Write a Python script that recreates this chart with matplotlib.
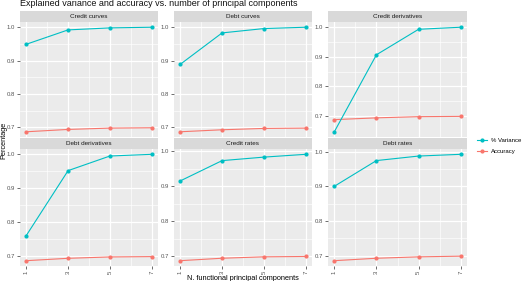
import matplotlib.pyplot as plt
import matplotlib
import numpy as np
from matplotlib.patches import Rectangle
from matplotlib.lines import Line2D

matplotlib.rcParams['font.family'] = ['Liberation Sans', 'DejaVu Sans']

# data
n_comp = [1, 3, 5, 7]
panels = ['Credit curves', 'Debt curves', 'Credit derivatives',
          'Debt derivatives', 'Credit rates', 'Debt rates']
variance = [
    [0.949, 0.992, 0.998, 1.000],
    [0.889, 0.983, 0.996, 1.000],
    [0.647, 0.907, 0.993, 1.000],
    [0.761, 0.952, 0.995, 1.000],
    [0.915, 0.973, 0.983, 0.991],
    [0.900, 0.974, 0.987, 0.992],
]
accuracy = [
    [0.687, 0.694, 0.698, 0.699],
    [0.687, 0.693, 0.697, 0.698],
    [0.688, 0.694, 0.698, 0.699],
    [0.687, 0.694, 0.698, 0.699],
    [0.687, 0.694, 0.698, 0.699],
    [0.686, 0.693, 0.697, 0.699],
]
y_ticks = [0.7, 0.8, 0.9, 1.0]
y_minor = [0.75, 0.85, 0.95]

c_var = '#00BFC4'
c_acc = '#F8766D'

fig = plt.figure(figsize=(5.25, 2.81), dpi=100)
W, H = 525, 281

# panel boxes in pixels
cols = [(20, 158), (174, 312), (328, 467)]
rows = [(22, 137), (149, 266)]
strip_h = 11

for i, name in enumerate(panels):
    r, c = divmod(i, 3)
    x0, x1 = cols[c]
    y0, y1 = rows[r]
    ax = fig.add_axes([x0 / W, 1 - y1 / H, (x1 - x0) / W, (y1 - y0) / H])
    ax.set_facecolor('#EBEBEB')
    for s in ax.spines.values():
        s.set_visible(False)

    v = np.array(variance[i])
    a = np.array(accuracy[i])
    lo = min(v.min(), a.min())
    hi = max(v.max(), a.max())
    pad = (hi - lo) * 0.05
    ax.set_ylim(lo - pad, hi + pad)
    ax.set_xlim(0.7, 7.3)

    ax.set_xticks(n_comp)
    ax.set_xticks([2, 4, 6], minor=True)
    ax.set_yticks(y_ticks)
    ax.set_yticks(y_minor, minor=True)
    ax.grid(which='major', color='white', linewidth=0.9)
    ax.grid(which='minor', color='white', linewidth=0.45)
    ax.set_axisbelow(True)
    ax.tick_params(which='minor', length=0)
    ax.tick_params(which='major', length=2, width=0.5, color='#333333',
                   labelsize=4.3, labelcolor='#555555', pad=1.5)
    ax.set_yticklabels(['0.7', '0.8', '0.9', '1.0'])
    if r == 0:
        ax.tick_params(axis='x', labelbottom=False, length=0)
    else:
        ax.set_xticklabels([str(n) for n in n_comp], rotation=90)

    ax.plot(n_comp, a, color=c_acc, lw=0.8, marker='o', ms=2.0, zorder=3)
    ax.plot(n_comp, v, color=c_var, lw=0.8, marker='o', ms=2.0, zorder=3)

    # facet strip
    sh = strip_h / (y1 - y0)
    ax.add_patch(Rectangle((0, 1), 1, sh, transform=ax.transAxes,
                           facecolor='#D9D9D9', edgecolor='none', clip_on=False))
    ax.text(0.5, 1 + sh / 2, name, transform=ax.transAxes, ha='center',
            va='center', fontsize=4.6, color='#1A1A1A')

fig.text(20 / W, 1 - 4 / H, 'Explained variance and accuracy vs. number of principal components',
         fontsize=6.5, color='#111111', ha='left', va='center')
fig.text(243 / W, 1 - 279 / H, 'N. functional principal components',
         fontsize=5.3, ha='center', va='center')
fig.text(4 / W, 1 - 140 / H, 'Percentage', fontsize=5.3, rotation=90,
         ha='center', va='center')

handles = [Line2D([], [], color=c_var, lw=0.8, marker='o', ms=2.0),
           Line2D([], [], color=c_acc, lw=0.8, marker='o', ms=2.0)]
fig.legend(handles, ['% Variance', 'Accuracy'], loc='center left',
           bbox_to_anchor=(472 / W, 1 - 146 / H), frameon=False, fontsize=4.3,
           handlelength=1.6, labelspacing=0.9, handletextpad=0.6)

fig.savefig('out.png', dpi=100)
